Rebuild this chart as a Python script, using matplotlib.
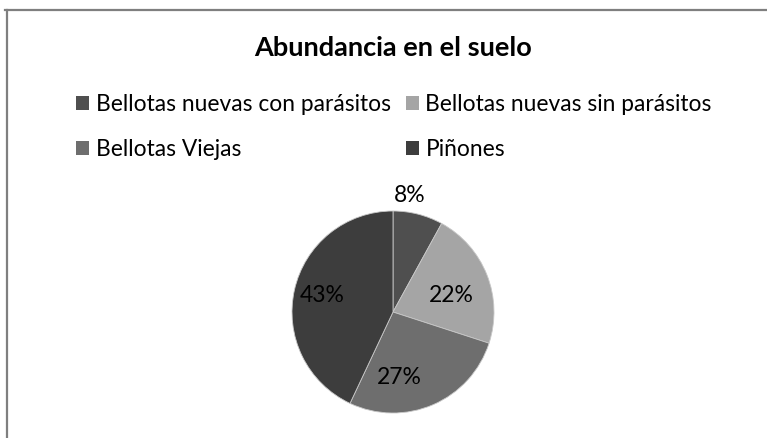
import matplotlib
matplotlib.use("Agg")
import matplotlib.pyplot as plt
from matplotlib.patches import Patch
from matplotlib.lines import Line2D

plt.rcParams['font.family'] = ['Lato', 'DejaVu Sans']

categories = ["Bellotas nuevas con parásitos", "Bellotas nuevas sin parásitos",
              "Bellotas Viejas", "Piñones"]
values = [8, 22, 27, 43]
colors = ["#4f4f4f", "#a5a5a5", "#6e6e6e", "#3d3d3d"]
title = "Abundancia en el suelo"

W, H = 767, 438
fig = plt.figure(figsize=(W / 100, H / 100), dpi=100)
fig.patch.set_facecolor("white")

# chart frame: top and left edges
fig.add_artist(Line2D([5 / W, 1.0], [1 - 9.5 / H, 1 - 9.5 / H], color="#7f7f7f", lw=1.6,
                      transform=fig.transFigure))
fig.add_artist(Line2D([6.5 / W, 6.5 / W], [0, 1 - 9.5 / H], color="#7f7f7f", lw=1.6,
                      transform=fig.transFigure))

fig.text(393 / W, 1 - 48.5 / H, title, ha="center", va="center", fontsize=19.5,
         fontweight="bold", color="#000000")

# pie
cx, cy, r = 393, 312, 101
ax = fig.add_axes([(cx - r) / W, 1 - (cy + r) / H, 2 * r / W, 2 * r / H])
wedges, texts, autotexts = ax.pie(values, colors=colors, startangle=90, counterclock=False,
                                  autopct=lambda p: f"{p:.0f}%", pctdistance=0.66,
                                  wedgeprops=dict(edgecolor="#c8c8c8", linewidth=0.6),
                                  textprops=dict(fontsize=16.5, color="#000000"))
ax.set_xlim(-1, 1)
ax.set_ylim(-1, 1)
ax.set_aspect("equal")
ax.axis("off")

# percentage label placement (in units of the pie radius)
label_pos = [(0.17, 1.15), (0.58, 0.16), (0.06, -0.65), (-0.70, 0.16)]
for t, pos in zip(autotexts, label_pos):
    t.set_position(pos)

# legend laid out row by row (matplotlib fills columns first)
order = [0, 2, 1, 3]
handles = [Patch(facecolor=colors[i], edgecolor="none") for i in order]
labels = [categories[i] for i in order]
fig.legend(handles, labels, ncol=2, loc="upper left",
           bbox_to_anchor=(58 / W, 1 - 76 / H), frameon=False, fontsize=16.4,
           handlelength=0.55, handleheight=0.55, handletextpad=0.3,
           columnspacing=0.68, labelspacing=1.05, borderpad=0.3)

fig.savefig("out.png", dpi=100)
